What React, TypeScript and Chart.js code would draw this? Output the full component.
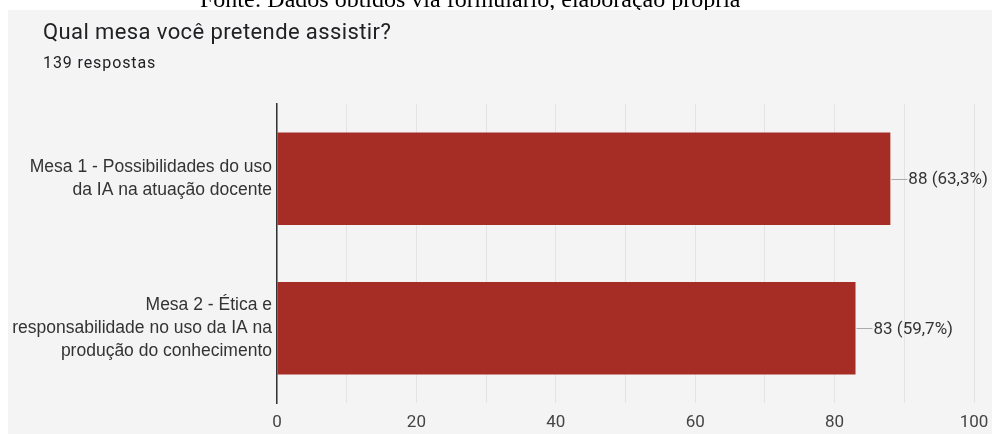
import React, { useEffect, useRef } from "react";
import { Chart, registerables } from "chart.js";

Chart.register(...registerables);

const sourceText = "Fonte: Dados obtidos via formulário, elaboração própria";
const titleText = "Qual mesa você pretende assistir?";
const subtitleText = "139 respostas";
const totalResponses = 139;

const categories: string[][] = [
  ["Mesa 1 - Possibilidades do uso", "da IA na atuação docente"],
  ["Mesa 2 - Ética e", "responsabilidade no uso da IA na", "produção do conhecimento"],
];
const votes: number[] = [88, 83];
const xTickLabels: number[] = [0, 20, 40, 60, 80, 100];

const BAR_COLOR = "#a62d25";

export default function App() {
  const ref = useRef<HTMLCanvasElement | null>(null);

  useEffect(() => {
    const canvas = ref.current;
    if (!canvas) return;

    const panelPlugin = {
      id: "panel",
      beforeDraw(chart: any) {
        const { ctx, width, height } = chart;
        ctx.save();
        ctx.fillStyle = "#ffffff";
        ctx.fillRect(0, 0, width, height);
        ctx.fillStyle = "#f4f4f4";
        ctx.fillRect(8, 10, width - 8, height - 10);
        ctx.restore();
      },
    };

    const labelPlugin = {
      id: "valueLabels",
      afterDatasetsDraw(chart: any) {
        const { ctx } = chart;
        const meta = chart.getDatasetMeta(0);
        ctx.save();
        meta.data.forEach((bar: any, i: number) => {
          const v = votes[i];
          const pct = ((v / totalResponses) * 100).toFixed(1).replace(".", ",");
          const x = bar.x;
          const y = bar.y;
          ctx.strokeStyle = "#aaaaaa";
          ctx.lineWidth = 1;
          ctx.beginPath();
          ctx.moveTo(x + 1, Math.round(y) + 0.5);
          ctx.lineTo(x + 17, Math.round(y) + 0.5);
          ctx.stroke();
          ctx.fillStyle = "#333333";
          ctx.font = "17px Roboto";
          ctx.textBaseline = "middle";
          ctx.textAlign = "left";
          ctx.fillText(`${v} (${pct}%)`, x + 18, y + 1);
        });
        ctx.restore();
      },
    };

    const chart = new Chart(canvas, {
      type: "bar",
      data: {
        labels: categories,
        datasets: [
          {
            data: votes,
            backgroundColor: BAR_COLOR,
            borderWidth: 0,
            categoryPercentage: 1,
            barPercentage: 0.62,
          },
        ],
      },
      options: {
        indexAxis: "y",
        responsive: false,
        animation: false,
        devicePixelRatio: 1,
        layout: { padding: { top: 104, right: 18, left: 0, bottom: 0 } },
        plugins: {
          legend: { display: false },
          tooltip: { enabled: false },
          title: { display: false },
        },
        scales: {
          x: {
            min: 0,
            max: 100,
            border: { display: false },
            grid: { color: "#e4e4e4", lineWidth: 1, drawTicks: false },
            ticks: {
              stepSize: 10,
              padding: 10,
              color: "#444444",
              font: { family: "Roboto", size: 17 },
              maxRotation: 0,
              autoSkip: false,
              callback: (value: any) =>
                xTickLabels.includes(Number(value)) ? String(value) : "",
            },
            afterFit: (s: any) => {
              s.height = 31;
              s.paddingLeft = 0;
              s.paddingRight = 0;
            },
          },
          y: {
            border: { display: true, color: "#333333", width: 1.5 },
            grid: { display: false, drawTicks: false },
            ticks: {
              padding: 5,
              color: "#333333",
              font: { family: "'Liberation Sans', Arial, sans-serif", size: 17.5, lineHeight: 1.3 },
            },
            afterFit: (s: any) => {
              s.width = 277;
              s.paddingTop = 0;
              s.paddingBottom = 0;
            },
          },
        },
      },
      plugins: [panelPlugin, labelPlugin],
    } as any);

    return () => chart.destroy();
  }, []);

  return (
    <div style={{ position: "fixed", left: 0, top: 0, width: 992, height: 434, overflow: "hidden" }}>
      <canvas ref={ref} width={992} height={434} style={{ position: "absolute", left: 0, top: 0, width: 992, height: 434 }} />
      <div style={{ position: "absolute", left: 0, top: 0, width: 992, height: 10, overflow: "hidden" }}>
        <div
          style={{
            position: "absolute",
            left: 200,
            top: -13,
            fontFamily: "'Liberation Serif', 'Times New Roman', serif",
            fontSize: 24,
            lineHeight: "24px",
            whiteSpace: "nowrap",
            color: "#000",
          }}
        >
          {sourceText}
        </div>
      </div>
      <div
        style={{
          position: "absolute",
          left: 43,
          top: 19,
          fontFamily: "Roboto, sans-serif",
          fontSize: 22,
          letterSpacing: "0.4px",
          lineHeight: "26px",
          color: "#202124",
          whiteSpace: "nowrap",
        }}
      >
        {titleText}
      </div>
      <div
        style={{
          position: "absolute",
          left: 43,
          top: 53,
          fontFamily: "Roboto, sans-serif",
          fontSize: 16,
          letterSpacing: "0.9px",
          lineHeight: "20px",
          color: "#202124",
          whiteSpace: "nowrap",
        }}
      >
        {subtitleText}
      </div>
    </div>
  );
}
